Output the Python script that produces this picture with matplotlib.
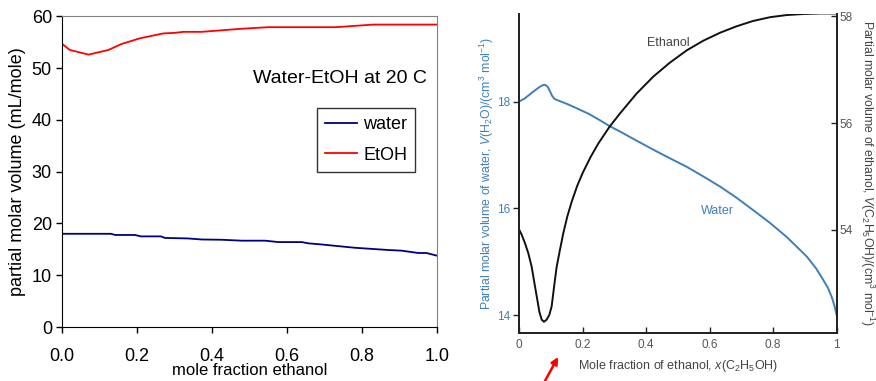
import matplotlib
matplotlib.use("Agg")
import matplotlib.pyplot as plt

plt.rcParams['font.family'] = ['Liberation Sans', 'DejaVu Sans']
plt.rcParams['mathtext.fontset'] = 'custom'
plt.rcParams['mathtext.rm'] = 'Liberation Sans'
plt.rcParams['mathtext.it'] = 'Liberation Sans:italic'

# ---------------- Left chart data (Excel style) ----------------
left_water_x = [0.0, 0.13, 0.141, 0.194, 0.21, 0.263, 0.274, 0.336, 0.372, 0.425,
                0.479, 0.541, 0.577, 0.639, 0.657, 0.683, 0.781, 0.87, 0.906,
                0.95, 0.972, 1.0]
left_water_y = [18.0, 18.0, 17.77, 17.77, 17.5, 17.5, 17.2, 17.1, 16.9, 16.85,
                16.67, 16.67, 16.4, 16.4, 16.15, 16.0, 15.3, 14.87, 14.74,
                14.29, 14.29, 13.77]
left_etoh_x = [0.0, 0.02, 0.07, 0.123, 0.158, 0.207, 0.27, 0.30, 0.323, 0.372,
               0.479, 0.55, 0.73, 0.83, 1.0]
left_etoh_y = [54.65, 53.5, 52.6, 53.5, 54.65, 55.75, 56.7, 56.8, 57.0, 57.0,
               57.6, 57.9, 57.9, 58.4, 58.4]
left_xticks = [0.0, 0.2, 0.4, 0.6, 0.8, 1.0]
left_xticklabels = ["0.0", "0.2", "0.4", "0.6", "0.8", "1.0"]
left_yticks = [0, 10, 20, 30, 40, 50, 60]

# ---------------- Right chart data (textbook figure) ----------------
water_x = [0.0, 0.018, 0.035, 0.05, 0.066, 0.076, 0.082, 0.09, 0.097, 0.104,
           0.112, 0.124, 0.15, 0.18, 0.22, 0.255, 0.286, 0.318, 0.37, 0.423,
           0.475, 0.528, 0.58, 0.633, 0.685, 0.737, 0.79, 0.842, 0.875, 0.906,
           0.935, 0.958, 0.972, 0.984, 0.993, 1.0]
water_y = [18.0, 18.06, 18.14, 18.21, 18.28, 18.31, 18.315, 18.28, 18.2, 18.11,
           18.05, 18.02, 17.96, 17.88, 17.77, 17.65, 17.54, 17.44, 17.27, 17.10,
           16.94, 16.78, 16.60, 16.41, 16.20, 15.97, 15.73, 15.47, 15.28, 15.10,
           14.88, 14.66, 14.52, 14.35, 14.18, 14.0]
ethanol_x = [0.0, 0.0084, 0.0189, 0.0294, 0.0399, 0.0504, 0.0577, 0.064, 0.0714,
             0.0787, 0.0871, 0.0955, 0.1028, 0.108, 0.1133, 0.1186, 0.129,
             0.1395, 0.152, 0.166, 0.183, 0.2, 0.225, 0.25, 0.285, 0.318, 0.37,
             0.423, 0.475, 0.528, 0.58, 0.633, 0.685, 0.737, 0.79, 0.842,
             0.895, 0.947, 1.0]
ethanol_y = [54.01, 53.91, 53.75, 53.56, 53.31, 52.94, 52.69, 52.47, 52.32,
             52.28, 52.32, 52.41, 52.57, 52.82, 53.07, 53.31, 53.63,
             53.94, 54.25, 54.53, 54.82, 55.06, 55.36, 55.62, 55.93, 56.18, 56.55,
             56.87, 57.13, 57.36, 57.54, 57.69, 57.81, 57.91, 57.98, 58.02,
             58.04, 58.05, 58.05]
right_xticks = [0, 0.2, 0.4, 0.6, 0.8, 1]
right_xticklabels = ["0", "0.2", "0.4", "0.6", "0.8", "1"]
water_ticks = [14, 16, 18]
ethanol_ticks = [54, 56, 58]

fig = plt.figure(figsize=(8.76, 3.81), dpi=100)

# ---------------- Left panel ----------------
ax = fig.add_axes([62.3/876, 1-327/381, (437-62.3)/876, (327-16.3)/381])
ax.plot(left_water_x, left_water_y, color='#000080', lw=1.3, label='water')
ax.plot(left_etoh_x, left_etoh_y, color='#ff0000', lw=1.3, label='EtOH')
ax.set_xlim(0, 1)
ax.set_ylim(0, 60)
ax.set_xticks(left_xticks)
ax.set_xticklabels(left_xticklabels)
ax.set_yticks(left_yticks)
ax.tick_params(direction='out', length=4, width=1, labelsize=13, colors='black')
ax.tick_params(axis='x', pad=11)
for s in ['top', 'right']:
    ax.spines[s].set_color('#808080')
for s in ['left', 'bottom']:
    ax.spines[s].set_color('black')
ax.set_xlabel('mole fraction ethanol', fontsize=12, labelpad=-1)
ax.set_ylabel('partial molar volume (mL/mole)', fontsize=13, labelpad=4)
ax.text(0.973, 0.80, 'Water-EtOH at 20 C', transform=ax.transAxes,
        fontsize=14, ha='right', va='center')
leg = ax.legend(loc='upper left', bbox_to_anchor=((317-62.3)/374.7, (327-108)/310.7),
                frameon=True, fancybox=False, edgecolor='black', fontsize=13,
                handlelength=1.75, handletextpad=0.35, borderpad=0.45,
                labelspacing=0.75, borderaxespad=0)
leg.get_frame().set_linewidth(1.0)

# ---------------- Right panel ----------------
blue = '#3f7fb8'
ax2 = fig.add_axes([519/876, 1-333/381, (836.7-519)/876, (333-14)/381])
ax3 = ax2.twinx()
ax2.plot(water_x, water_y, color=blue, lw=1.4)
ax3.plot(ethanol_x, ethanol_y, color='#111111', lw=1.4)
ax2.set_xlim(0, 1)
ax2.set_ylim(13.67, 19.64)
ax3.set_ylim(52.07, 58.04)
ax2.set_xticks(right_xticks)
ax2.set_xticklabels(right_xticklabels)
ax2.set_yticks(water_ticks)
ax3.set_yticks(ethanol_ticks)
for a in (ax2, ax3):
    a.spines['top'].set_visible(False)
    for s in ['left', 'right', 'bottom']:
        a.spines[s].set_color('#222222')
        a.spines[s].set_linewidth(1.3)
ax2.tick_params(axis='x', direction='in', length=4, width=1, labelsize=8.5,
                colors='#222222', labelcolor='#555555', pad=4)
ax2.tick_params(axis='y', direction='out', length=4, width=1, labelsize=8.5,
                colors='#222222', labelcolor=blue, pad=2)
ax3.tick_params(axis='y', direction='in', length=4, width=1, labelsize=8.5,
                colors='#222222', labelcolor='#555555', pad=2)
ax2.set_xlabel(r'Mole fraction of ethanol, $x$(C$_2$H$_5$OH)', fontsize=9,
               color='#444444', labelpad=5)
ax2.set_ylabel(r'Partial molar volume of water, $V$(H$_2$O)/(cm$^3$ mol$^{-1}$)',
               fontsize=8.8, color=blue, labelpad=1)
ax3.set_ylabel(r'Partial molar volume of ethanol, $V$(C$_2$H$_5$OH)/(cm$^3$ mol$^{-1}$)',
               fontsize=8.8, color='#444444', rotation=270, labelpad=17)
ax3.text(0.469, 57.50, 'Ethanol', fontsize=9, color='#444444', ha='center', va='center')
ax2.text(0.626, 15.95, 'Water', fontsize=9, color=blue, ha='center', va='center')

# red arrow pointing at the axis
ax2.annotate('', xy=(0.123, -0.075), xytext=(0.082, -0.15),
             xycoords=ax2.get_xaxis_transform(), textcoords=ax2.get_xaxis_transform(),
             arrowprops=dict(arrowstyle='-|>', color='red', lw=1.8,
                             mutation_scale=10, shrinkA=0, shrinkB=0),
             annotation_clip=False)

fig.savefig('out.png', dpi=100)
